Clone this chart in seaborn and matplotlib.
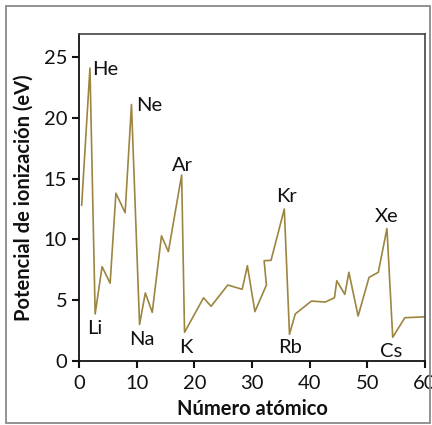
import matplotlib
matplotlib.use("Agg")
import matplotlib.pyplot as plt
import seaborn as sns
import pandas as pd
from matplotlib.patches import Rectangle

# Data
atomic_number = [0.46, 1.9, 2.8, 4.0, 5.4, 6.4, 8.0, 9.1, 10.5, 11.5, 12.7, 14.3, 15.5,
                 17.8, 18.3, 21.6, 22.9, 25.8, 28.3, 29.2, 30.5, 32.5, 32.1, 33.3,
                 35.6, 36.5, 37.5, 40.3, 42.7, 44.3, 44.7, 46.1, 46.8, 48.4, 50.3,
                 51.9, 53.4, 54.4, 56.5, 60.3]
ionization = [12.8, 24.1, 3.87, 7.76, 6.4, 13.8, 12.2, 21.1, 3.0, 5.6, 4.0, 10.3, 9.0,
              15.3, 2.36, 5.2, 4.5, 6.25, 5.9, 7.84, 4.06, 6.25, 8.25, 8.28,
              12.5, 2.2, 3.87, 4.93, 4.85, 5.2, 6.6, 5.48, 7.3, 3.7, 6.88,
              7.3, 10.9, 1.95, 3.56, 3.64]

label_names = ["He", "Ne", "Ar", "Kr", "Xe", "Li", "Na", "K", "Rb", "Cs"]
label_x = [2.3, 9.9, 17.9, 35.9, 53.3, 2.8, 10.9, 18.5, 36.6, 54.1]
label_y = [24.0, 21.0, 16.1, 13.5, 11.9, 2.65, 1.78, 1.15, 1.07, 0.8]
label_ha = ["left", "left", "center", "center", "center",
            "center", "center", "center", "center", "center"]

x_ticks = [0, 10, 20, 30, 40, 50, 60]
y_ticks = [0, 5, 10, 15, 20, 25]

sns.set_style("white")
plt.rcParams["font.family"] = ["Lato", "DejaVu Sans"]

FS = 14.5

fig = plt.figure(figsize=(4.32, 4.25), dpi=100)
ax = fig.add_axes([79 / 432, 1 - 361 / 425, (425 - 79) / 432, (361 - 34) / 425])

df = pd.DataFrame({"Z": atomic_number, "E": ionization})
sns.lineplot(data=df, x="Z", y="E", sort=False, estimator=None, ax=ax,
             color="#9c8540", linewidth=1.2)

for name, lx, ly, ha in zip(label_names, label_x, label_y, label_ha):
    ax.text(lx, ly, name, ha=ha, va="center", fontsize=FS, color="#111111")

ax.set_xlim(0, 60)
ax.set_ylim(0, 26.9)
ax.set_xticks(x_ticks)
ax.set_yticks(y_ticks)
ax.tick_params(axis="both", direction="out", length=5, width=1.5, labelsize=FS,
               color="#111111", labelcolor="#111111", pad=3.5)
ax.tick_params(axis="x", pad=5)
ax.tick_params(bottom=True, left=True)

for side in ["left", "bottom"]:
    ax.spines[side].set_color("#111111")
    ax.spines[side].set_linewidth(1.3)
for side in ["top", "right"]:
    ax.spines[side].set_color("#444444")
    ax.spines[side].set_linewidth(1.2)

ax.set_xlabel("Número atómico", fontsize=FS, fontweight="bold", color="#111111", labelpad=5)
ax.set_ylabel("Potencial de ionización (eV)", fontsize=FS, fontweight="bold",
              color="#111111", labelpad=7)

fig.patches.append(Rectangle((6 / 432, 2 / 425), (430 - 6) / 432, (419 - 2) / 425,
                             transform=fig.transFigure, fill=False,
                             edgecolor="#8a8a8a", linewidth=1.3, zorder=0))

fig.savefig("out.png", dpi=100)
